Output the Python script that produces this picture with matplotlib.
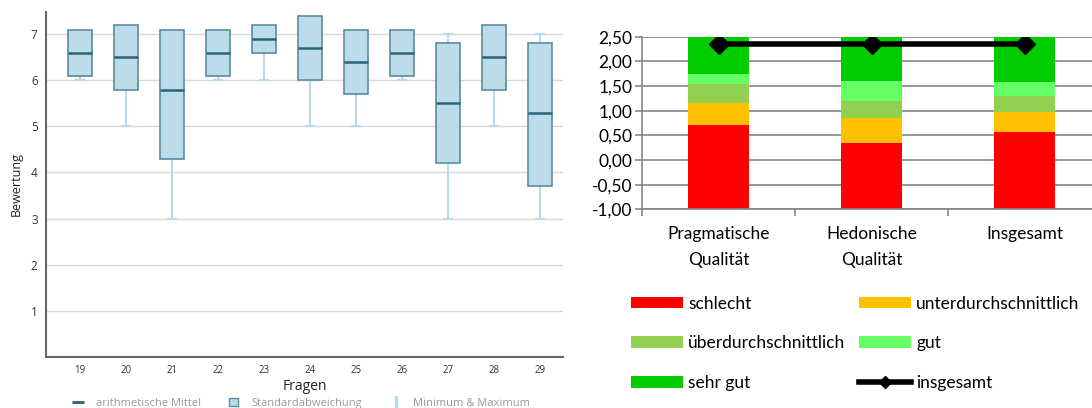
import numpy as np
import matplotlib
matplotlib.use("Agg")
import matplotlib.pyplot as plt
from matplotlib.patches import Patch
from matplotlib.lines import Line2D
from matplotlib.ticker import FuncFormatter

# --- left chart: Bewertung per Frage ---
fragen = [19, 20, 21, 22, 23, 24, 25, 26, 27, 28, 29]
mittel = [6.6, 6.5, 5.8, 6.6, 6.9, 6.7, 6.4, 6.6, 5.5, 6.5, 5.3]
sd_unten = [6.1, 5.8, 4.3, 6.1, 6.6, 6.0, 5.7, 6.1, 4.2, 5.8, 3.7]
sd_oben = [7.1, 7.2, 7.1, 7.1, 7.2, 7.4, 7.1, 7.1, 6.8, 7.2, 6.8]
minimum = [6, 5, 3, 6, 6, 5, 5, 6, 3, 5, 3]
maximum = [7, 7, 7, 7, 7, 7, 7, 7, 7, 7, 7]

# --- right chart: UEQ benchmark ---
skalen = ["Pragmatische\nQualität", "Hedonische\nQualität", "Insgesamt"]
klassen = ["schlecht", "unterdurchschnittlich", "überdurchschnittlich", "gut", "sehr gut"]
# upper bound of each class per scale, bars start at -1
grenzen = {
    "schlecht": [0.71, 0.35, 0.57],
    "unterdurchschnittlich": [1.16, 0.86, 0.98],
    "überdurchschnittlich": [1.55, 1.20, 1.30],
    "gut": [1.74, 1.60, 1.59],
    "sehr gut": [2.50, 2.50, 2.50],
}
insgesamt = [2.36, 2.36, 2.36]
farben = ["#ff0000", "#ffc000", "#92d050", "#66ff66", "#00cc00"]

fig = plt.figure(figsize=(10.92, 4.08), dpi=100)

# ================= left =================
ax1 = fig.add_axes([46 / 1092, 1 - 356.7 / 408, 517 / 1092, 345 / 408])
x = np.arange(len(fragen))
box_fill = "#bcdcea"
box_edge = "#5a8ca1"
mean_col = "#2b6176"
whisk = "#b5dbee"

lo = np.array(sd_unten)
hi = np.array(sd_oben)
ax1.vlines(x, minimum, lo, color=whisk, lw=1.5, zorder=2)
ax1.vlines(x, hi, np.maximum(hi, maximum), color=whisk, lw=1.5, zorder=2)
ax1.hlines(minimum, x - 0.11, x + 0.11, color=whisk, lw=1.5, zorder=2)
ax1.hlines(maximum, x - 0.11, x + 0.11, color=whisk, lw=1.5, zorder=2)
ax1.bar(x, hi - lo, bottom=lo, width=0.52, color=box_fill, edgecolor=box_edge,
        linewidth=1.2, zorder=3)
ax1.hlines(mittel, x - 0.26, x + 0.26, color=mean_col, lw=1.8, zorder=4)

ax1.set_xlim(-0.74, len(fragen) - 0.5)
ax1.set_ylim(0, 7.49)
ax1.set_yticks([1, 2, 3, 4, 5, 6, 7])
ax1.set_xticks(x)
ax1.set_xticklabels([str(f) for f in fragen], fontsize=7, family="Open Sans", color="#333333")
for lab in ax1.get_yticklabels():
    lab.set_fontsize(8.5)
    lab.set_family("Open Sans")
    lab.set_color("#333333")
ax1.tick_params(length=0, pad=6)
ax1.grid(axis="y", color="#d9d9d9", lw=1)
ax1.set_axisbelow(True)
for s in ["top", "right"]:
    ax1.spines[s].set_visible(False)
for s in ["left", "bottom"]:
    ax1.spines[s].set_color("#666666")
    ax1.spines[s].set_linewidth(1.5)
ax1.set_ylabel("Bewertung", fontsize=9, family="Open Sans", color="#222222", labelpad=6)
ax1.set_xlabel("Fragen", fontsize=10, family="Open Sans", color="#222222", labelpad=2)

leg_handles = [
    Line2D([], [], color=mean_col, lw=0, marker="_", markersize=9, markeredgewidth=2),
    Patch(facecolor=box_fill, edgecolor=box_edge),
    Line2D([], [], color=whisk, lw=0, marker="$\\mathbf{I}$", markersize=8),
]
fig.legend(leg_handles, ["arithmetische Mittel", "Standardabweichung", "Minimum & Maximum"],
           ncol=3, frameon=False, loc="center left", bbox_to_anchor=(0.058, 0.012),
           prop={"family": "Open Sans", "size": 8}, labelcolor="#999999",
           handlelength=0.8, handletextpad=1.2, columnspacing=2.6)

# ================= right =================
ax2 = fig.add_axes([642 / 1092, 1 - 209.3 / 408, 459 / 1092, 172.6 / 408])
xs = np.arange(len(skalen))
unten = np.full(len(skalen), -1.0)
for k, c in zip(klassen, farben):
    oben = np.array(grenzen[k])
    ax2.bar(xs, oben - unten, bottom=unten, width=0.4, color=c, zorder=2, label=k)
    unten = oben
ax2.plot(xs, insgesamt, color="black", lw=4, marker="D", markersize=10, zorder=3,
         label="insgesamt")

ax2.set_xlim(-0.5, 2.5)
ax2.set_ylim(-1.0, 2.5)
ax2.set_yticks(np.arange(-1.0, 2.51, 0.5))
ax2.yaxis.set_major_formatter(FuncFormatter(lambda v, p: f"{v:.2f}".replace(".", ",")))
ax2.set_xticks(xs)
ax2.set_xticklabels(skalen, fontsize=12.5, family="Lato", linespacing=1.75)
ax2.set_xticks([-0.5, 0.5, 1.5, 2.5], minor=True)
ax2.tick_params(axis="x", which="major", length=0, pad=12)
ax2.tick_params(axis="x", which="minor", length=5, color="#868686", width=1.2)
ax2.tick_params(axis="y", length=5, color="#868686", width=1.2, labelsize=12.5, pad=2)
for lab in ax2.get_yticklabels():
    lab.set_family("Lato")
ax2.grid(axis="y", color="#868686", lw=1.2)
ax2.set_axisbelow(True)
for s in ["top", "right"]:
    ax2.spines[s].set_visible(False)
for s in ["left", "bottom"]:
    ax2.spines[s].set_color("#868686")
    ax2.spines[s].set_linewidth(1.2)

h, l = ax2.get_legend_handles_labels()
# legend fills column-wise: col 1 = schlecht, über, sehr gut; col 2 = unter, gut, insgesamt
order = [1, 3, 5, 2, 4, 0]
h = [h[i] for i in order]
l = [l[i] for i in order]
h[-1] = Line2D([], [], color="black", lw=4, marker="D", markersize=6)
fig.legend(h, l, ncol=2, frameon=False, loc="upper left", bbox_to_anchor=(615 / 1092, 1 - 280 / 408),
           prop={"family": "Lato", "size": 12.5}, handlelength=3.0, handleheight=0.65,
           handletextpad=0.3, labelspacing=1.36, columnspacing=0.8)

fig.savefig("out.png", dpi=100)
